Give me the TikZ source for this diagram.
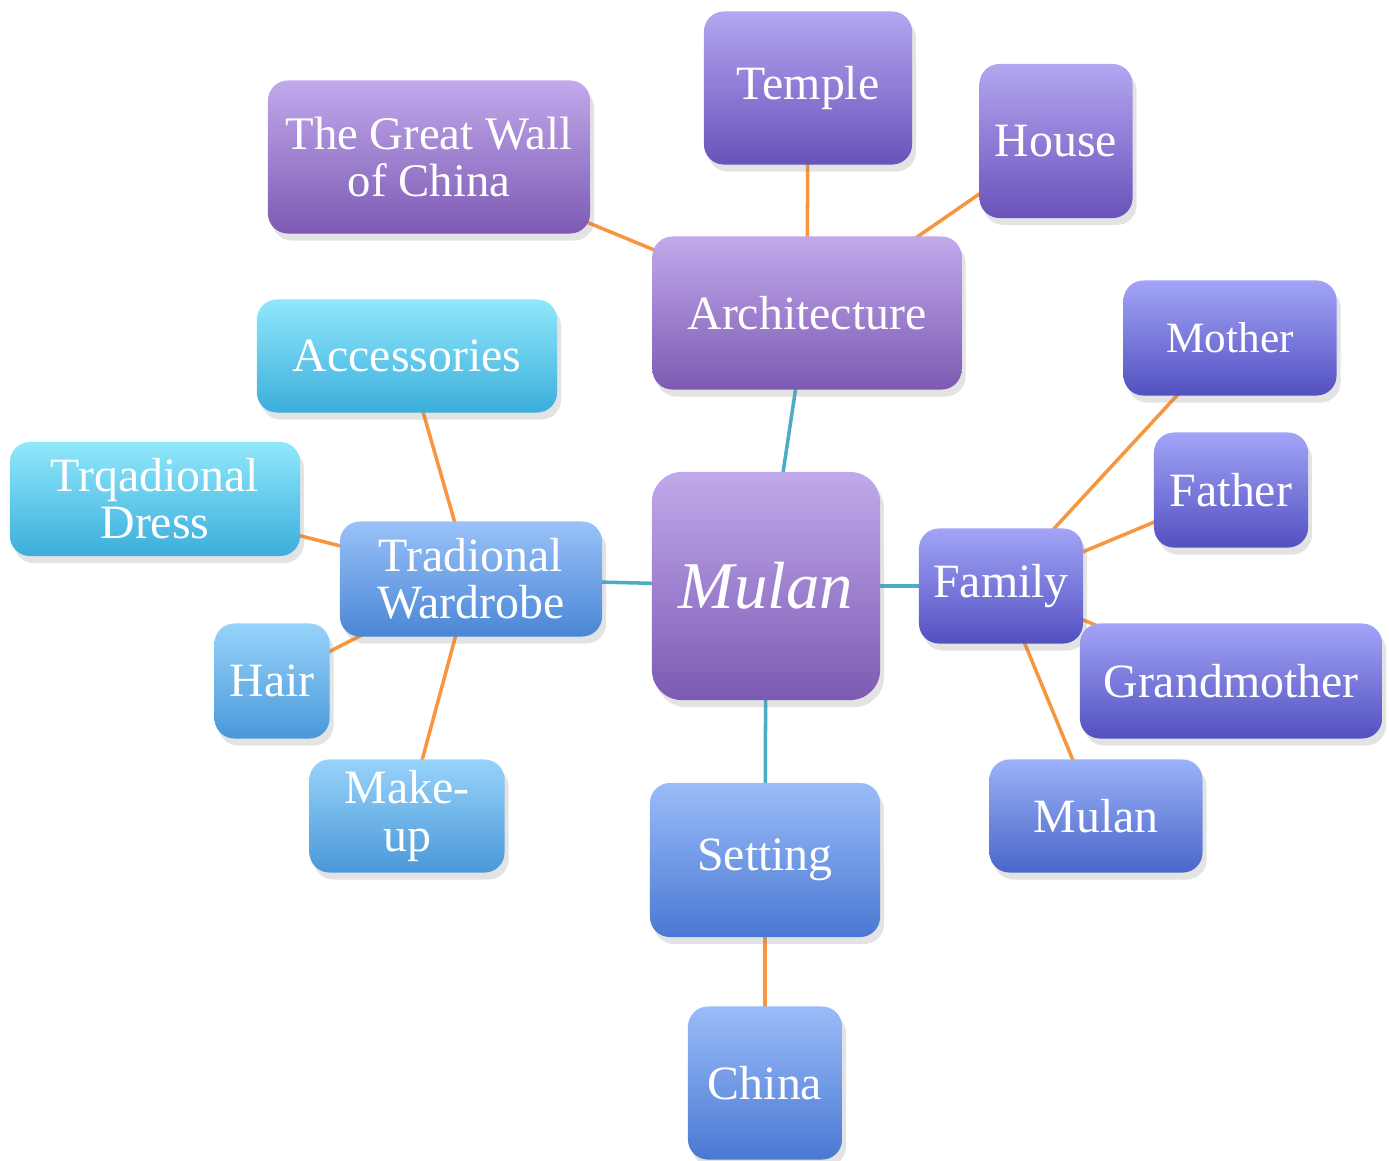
\documentclass[tikz,border=0pt]{standalone}
\usepackage{fontspec}
\setmainfont{Liberation Serif}
\usetikzlibrary{shadows,backgrounds}

\definecolor{lilacTop}{HTML}{C1A9EB}
\definecolor{lilacBot}{HTML}{7C5AB3}
\definecolor{violetTop}{HTML}{B4A6F1}
\definecolor{violetBot}{HTML}{6952BA}
\definecolor{indigoTop}{HTML}{A2A4F7}
\definecolor{indigoBot}{HTML}{5350C0}
\definecolor{blueTop}{HTML}{9AB2F8}
\definecolor{blueBot}{HTML}{4A66CA}
\definecolor{skyTop}{HTML}{9ABCF9}
\definecolor{skyBot}{HTML}{4A78D2}
\definecolor{azureTop}{HTML}{99C2F8}
\definecolor{azureBot}{HTML}{4A86D6}
\definecolor{capriTop}{HTML}{97D3FA}
\definecolor{capriBot}{HTML}{4A98D9}
\definecolor{aquaTop}{HTML}{90E8FB}
\definecolor{aquaBot}{HTML}{3BAEDC}
\definecolor{linkOrange}{HTML}{F7963F}
\definecolor{linkTeal}{HTML}{4BACC6}

\begin{document}
\begin{tikzpicture}[x=0.01cm,y=-0.01cm,
    box/.style={rounded corners=2mm, inner sep=0pt, align=center, text=white,
        font=\fontsize{13.6pt}{13.4pt}\selectfont,
        drop shadow={shadow xshift=0.4mm, shadow yshift=-0.7mm, opacity=0.22}},
    lilac/.style={box, top color=lilacTop, bottom color=lilacBot},
    violet/.style={box, top color=violetTop, bottom color=violetBot},
    indigo/.style={box, top color=indigoTop, bottom color=indigoBot},
    bluish/.style={box, top color=blueTop, bottom color=blueBot},
    sky/.style={box, top color=skyTop, bottom color=skyBot},
    azure/.style={box, top color=azureTop, bottom color=azureBot},
    capri/.style={box, top color=capriTop, bottom color=capriBot},
    aqua/.style={box, top color=aquaTop, bottom color=aquaBot},
    orangelink/.style={linkOrange, line width=1pt},
    teallink/.style={linkTeal, line width=1pt}]

    \useasboundingbox (0,0) rectangle (1389,1160);

    % Centre
    \node[lilac, rounded corners=3mm, minimum width=22.8mm, minimum height=22.8mm,
        font=\itshape\fontsize{19pt}{20pt}\selectfont] (mulan) at (766,586) {Mulan};

    % Architecture branch
    \node[lilac, minimum width=30.9mm, minimum height=15.3mm] (arch) at (807,313) {Architecture};
    \node[violet, minimum width=20.8mm, minimum height=15.3mm] (temple) at (808,88) {Temple};
    \node[lilac, minimum width=32.2mm, minimum height=15.3mm, font=\fontsize{13.3pt}{13.4pt}\selectfont] (wall) at (429,157) {The Great Wall\\of China};
    \node[violet, minimum width=15.3mm, minimum height=15.4mm] (house) at (1056,141) {House};

    % Wardrobe branch
    \node[azure, minimum width=26.2mm, minimum height=11.5mm] (wardrobe) at (471,579) {Tradional\\Wardrobe};
    \node[aqua, minimum width=30.0mm, minimum height=11.3mm] (acc) at (407,356) {Accessories};
    \node[aqua, minimum width=29.0mm, minimum height=11.4mm] (dress) at (155,499) {Trqadional\\Dress};
    \node[capri, minimum width=11.5mm, minimum height=11.5mm] (hair) at (272,681) {Hair};
    \node[capri, minimum width=19.5mm, minimum height=11.3mm] (makeup) at (407,816) {Make-\\up};

    % Family branch
    \node[indigo, minimum width=16.4mm, minimum height=11.5mm] (family) at (1001,586) {Family};
    \node[indigo, minimum width=21.3mm, minimum height=11.5mm, font=\fontsize{12.3pt}{13pt}\selectfont] (mother) at (1230,338) {Mother};
    \node[indigo, minimum width=15.4mm, minimum height=11.5mm] (father) at (1231,490) {Father};
    \node[indigo, minimum width=30.2mm, minimum height=11.5mm] (grandma) at (1231,681) {Grandmother};
    \node[bluish, minimum width=21.3mm, minimum height=11.3mm] (mulankid) at (1096,816) {Mulan};

    % Setting branch
    \node[sky, minimum width=23.0mm, minimum height=15.4mm] (setting) at (765,860) {Setting};
    \node[sky, minimum width=15.4mm, minimum height=15.3mm] (china) at (765,1083) {China};

    % Connectors, behind the boxes
    \begin{pgfonlayer}{background}
        \foreach \a in {arch,wardrobe,family,setting}
            \draw[teallink] (mulan.center) -- (\a.center);
        \foreach \a/\b in {arch/temple,arch/wall,arch/house,
                           wardrobe/acc,wardrobe/dress,wardrobe/hair,wardrobe/makeup,
                           family/mother,family/father,family/grandma,family/mulankid,
                           setting/china}
            \draw[orangelink] (\a.center) -- (\b.center);
    \end{pgfonlayer}
\end{tikzpicture}
\end{document}
